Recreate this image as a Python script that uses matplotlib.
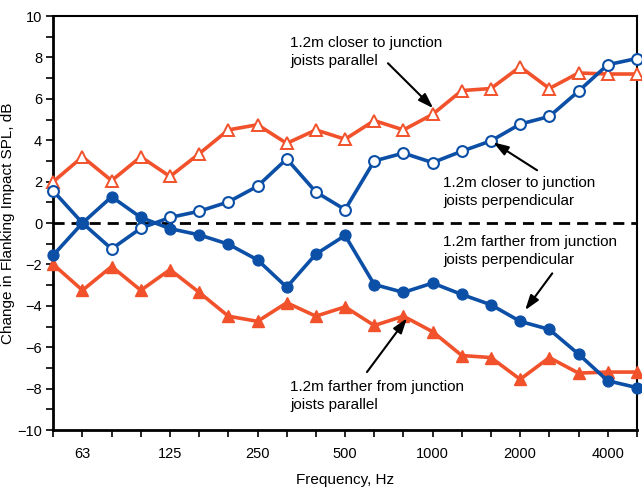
import numpy as np
import matplotlib
matplotlib.use("Agg")
import matplotlib.pyplot as plt

plt.rcParams['font.family'] = ['Liberation Sans', 'DejaVu Sans']

# 1/3 octave band centre frequencies, Hz
bands = [50, 63, 80, 100, 125, 160, 200, 250, 315, 400, 500,
         630, 800, 1000, 1250, 1600, 2000, 2500, 3150, 4000, 5000]
tick_labels = ["63", "125", "250", "500", "1000", "2000", "4000"]

closer_parallel = [2.0, 3.2, 2.05, 3.2, 2.25, 3.35, 4.5, 4.75, 3.85, 4.5, 4.05,
                   4.95, 4.5, 5.25, 6.4, 6.5, 7.55, 6.5, 7.25, 7.2, 7.2]
farther_parallel = [-2.0, -3.25, -2.1, -3.25, -2.25, -3.35, -4.5, -4.75, -3.85, -4.5, -4.05,
                    -4.95, -4.5, -5.25, -6.4, -6.5, -7.55, -6.5, -7.25, -7.2, -7.2]
closer_perp = [1.55, 0.0, -1.25, -0.25, 0.27, 0.57, 1.02, 1.78, 3.1, 1.5, 0.65,
               3.0, 3.38, 2.92, 3.47, 3.97, 4.78, 5.15, 6.37, 7.65, 7.95]
farther_perp = [-1.55, 0.0, 1.27, 0.27, -0.27, -0.57, -1.02, -1.78, -3.1, -1.5, -0.6,
                -2.97, -3.35, -2.9, -3.45, -3.95, -4.75, -5.14, -6.33, -7.62, -7.95]

BLUE = '#0b4fa6'
ORANGE = '#f1522b'

x = np.arange(len(bands))

fig = plt.figure(figsize=(6.42, 4.87), dpi=100)
ax = fig.add_axes([0.083, 0.117, 0.909, 0.85])

ax.axhline(0, color='black', lw=2, ls=(0, (4, 2.5)), zorder=1)

lw = 2.6
ax.plot(x, closer_parallel, color=ORANGE, lw=lw, marker='^', ms=9,
        mfc='white', mec=ORANGE, mew=1.4, clip_on=False, zorder=3)
ax.plot(x, farther_parallel, color=ORANGE, lw=lw, marker='^', ms=9,
        mfc=ORANGE, mec=ORANGE, clip_on=False, zorder=3)
ax.plot(x, closer_perp, color=BLUE, lw=lw, marker='o', ms=7.8,
        mfc='white', mec=BLUE, mew=1.5, clip_on=False, zorder=4)
ax.plot(x, farther_perp, color=BLUE, lw=lw, marker='o', ms=7.8,
        mfc=BLUE, mec=BLUE, clip_on=False, zorder=4)

ax.set_xlim(0, len(bands) - 1)
ax.set_ylim(-10, 10)

ax.set_xticks(x, minor=True)
ax.set_xticks([bands.index(int(t)) for t in tick_labels])
ax.set_xticklabels(tick_labels)
ax.set_yticks(np.arange(-10, 11, 2))
ax.set_yticks(np.arange(-9, 10, 2), minor=True)

ax.tick_params(axis='both', which='major', direction='out', length=5, width=1.2,
               labelsize=10.5, colors='black')
ax.tick_params(axis='both', which='minor', direction='out', length=5, width=1.2)
ax.tick_params(axis='x', which='major', pad=7)
ax.tick_params(axis='y', which='major', pad=3)

for side in ['left', 'bottom']:
    ax.spines[side].set_linewidth(2)
for side in ['top', 'right']:
    ax.spines[side].set_linewidth(1.5)

ax.set_xlabel('Frequency, Hz', fontsize=11, labelpad=9)
ax.set_ylabel('Change in Flanking Impact SPL, dB', fontsize=11, labelpad=2)

# labels (position of text block) and arrows (tail -> head)
notes = [
    ('1.2m closer to junction\njoists parallel', (8.11, 8.28), (11.47, 7.72), (13.02, 5.55)),
    ('1.2m closer to junction\njoists perpendicular', (13.36, 1.49), (16.58, 2.55), (15.08, 3.9)),
    ('1.2m farther from junction\njoists perpendicular', (13.36, -1.36), (17.1, -2.43), (16.17, -4.21)),
    ('1.2m farther from junction\njoists parallel', (8.11, -8.37), (10.75, -7.2), (12.12, -4.6)),
]
arrow = dict(arrowstyle='-|>,head_length=0.9,head_width=0.3', color='black', lw=1.5,
             shrinkA=0, shrinkB=0)
for label, pos, tail, head in notes:
    ax.text(pos[0], pos[1], label, fontsize=11, ha='left', va='center', linespacing=1.35)
    ax.annotate('', xy=head, xytext=tail, arrowprops=arrow, zorder=5)

fig.savefig('out.png', dpi=100)
